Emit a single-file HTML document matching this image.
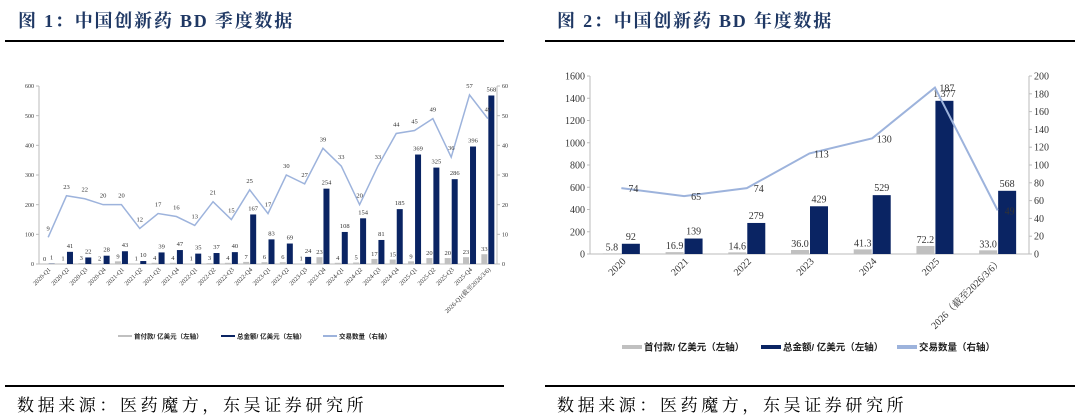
<!DOCTYPE html>
<html><head><meta charset="utf-8"><style>
body{margin:0;width:1080px;height:418px;background:#fff;overflow:hidden;font-family:"Liberation Serif","Noto Serif CJK SC",serif;}
svg{position:absolute;left:0;top:0}
</style></head><body>
<svg id="s" width="1080" height="418">
<text x="18" y="27" font-size="18" font-weight="bold" fill="#1f3864" letter-spacing="1.8" font-family="Liberation Serif,Noto Serif CJK SC,serif">图 1：中国创新药 BD 季度数据</text>
<line x1="5" y1="41" x2="504" y2="41" stroke="#000" stroke-width="2"/>
<text x="557" y="27" font-size="18" font-weight="bold" fill="#1f3864" letter-spacing="1.8" font-family="Liberation Serif,Noto Serif CJK SC,serif">图 2：中国创新药 BD 年度数据</text>
<line x1="545" y1="41" x2="1075" y2="41" stroke="#000" stroke-width="2"/>
<line x1="5" y1="386" x2="504" y2="386" stroke="#000" stroke-width="2"/>
<line x1="545" y1="386" x2="1075" y2="386" stroke="#000" stroke-width="2"/>
<text x="17" y="411" font-size="17" fill="#000" letter-spacing="3.6" font-family="Liberation Serif,Noto Serif CJK SC,serif">数据来源：医药魔方，东吴证券研究所</text>
<text x="557" y="411" font-size="17" fill="#000" letter-spacing="3.6" font-family="Liberation Serif,Noto Serif CJK SC,serif">数据来源：医药魔方，东吴证券研究所</text>
<g id="c1"></g>
<g id="c2"></g>
</svg>
<script>
const qCats=["2020-Q1","2020-Q2","2020-Q3","2020-Q4","2021-Q1","2021-Q2","2021-Q3","2021-Q4","2022-Q1","2022-Q2","2022-Q3","2022-Q4","2023-Q1","2023-Q2","2023-Q3","2023-Q4","2024-Q1","2024-Q2","2024-Q3","2024-Q4","2025-Q1","2025-Q2","2025-Q3","2025-Q4","2026-Q1(截至2026/3/6)"];
const qUpfront=[0,1,3,2,9,1,4,4,1,3,4,7,6,6,1,23,4,5,17,15,9,20,20,23,33];
const qTotal=[1,41,22,28,43,10,39,47,35,37,40,167,83,69,24,254,108,154,81,185,369,325,286,396,568];
const qDeals=[9,23,22,20,20,12,17,16,13,21,15,25,17,30,27,39,33,20,33,44,45,49,36,57,49];
const qLeftTicks=[0,100,200,300,400,500,600];
const qRightTicks=[0,10,20,30,40,50,60];

const yCats=["2020","2021","2022","2023","2024","2025","2026（截至2026/3/6）"];
const yUpfront=[5.8,16.9,14.6,36.0,41.3,72.2,33.0];
const yTotal=[92,139,279,429,529,1377,568];
const yDeals=[74,65,74,113,130,187,49];
const yTotalLabels=["92","139","279","429","529","1,377","568"];
const yLeftTicks=[0,200,400,600,800,1000,1200,1400,1600];
const yRightTicks=[0,20,40,60,80,100,120,140,160,180,200];

const NS="http://www.w3.org/2000/svg";
function mk(p,tag,at,txt){const e=document.createElementNS(NS,tag);for(const k in at)e.setAttribute(k,at[k]);if(txt!==undefined)e.textContent=txt;p.appendChild(e);return e;}

function chart(g,o){
  const n=o.cats.length,bw=(o.x1-o.x0)/n;
  const xc=i=>o.x0+bw*(i+0.5);
  const yl=v=>o.yb-(v/o.lmax)*(o.yb-o.yt);
  const yr=v=>o.yb-(v/o.rmax)*(o.yb-o.yt);
  let e;
  e=mk(g,"line",{x1:o.x0,y1:o.yt,x2:o.x0,y2:o.yb,stroke:"#bbb","stroke-width":1});
  
  
  e=mk(g,"line",{x1:o.x1,y1:o.yt,x2:o.x1,y2:o.yb,stroke:"#bbb","stroke-width":1});
  
  
  e=mk(g,"line",{x1:o.x0,y1:o.yb,x2:o.x1,y2:o.yb,stroke:"#bbb","stroke-width":1});
  
  
  o.lt.forEach(v=>{
    mk(g,"line",{x1:o.x0-3,y1:yl(v),x2:o.x0,y2:yl(v),stroke:"#bbb"});
    e=mk(g,"text",{x:o.x0-5,y:yl(v)+o.tf*0.35,"font-size":o.tf,"text-anchor":"end",fill:"#333"},v);
    
    
  });
  o.rt.forEach(v=>{
    mk(g,"line",{x1:o.x1,y1:yr(v),x2:o.x1+3,y2:yr(v),stroke:"#bbb"});
    e=mk(g,"text",{x:o.x1+5,y:yr(v)+o.tf*0.35,"font-size":o.tf,fill:"#333"},v);
    
    
  });
  const w=o.barw;
  o.cats.forEach((c,i)=>{
    const x=xc(i);
    e=mk(g,"rect",{x:x-w-o.gap/2,y:yl(o.up[i]),width:w,height:o.yb-yl(o.up[i]),fill:"#c0c0c0"});
    
    
    e=mk(g,"rect",{x:x+o.gap/2,y:yl(o.tot[i]),width:w,height:o.yb-yl(o.tot[i]),fill:"#0a2463"});
    
    
    e=mk(g,"text",{x:x-w/2-o.gap/2,y:yl(o.up[i])-3,"font-size":o.lf,"text-anchor":"middle",fill:"#333"},o.upl?o.upl[i]:o.up[i]);
    
    
    e=mk(g,"text",{x:x+w/2+o.gap/2,y:yl(o.tot[i])-4,"font-size":o.lf,"text-anchor":"middle",fill:"#333"},o.totl?o.totl[i]:o.tot[i]);
    
    
    e=mk(g,"text",{transform:`translate(${x+o.cdx},${o.yb+o.cdy}) rotate(-45)`,"font-size":o.cf,"text-anchor":"end",fill:"#333"},c);
    
    
  });
  const pts=o.deals.map((v,i)=>xc(i)+","+yr(v)).join(" ");
  e=mk(g,"polyline",{points:pts,fill:"none",stroke:"#9db3dc","stroke-width":o.lw});
  
  
  o.deals.forEach((v,i)=>{
    e=mk(g,"text",{x:xc(i)+o.ddx,y:yr(v)+o.ddy,"font-size":o.lf,"text-anchor":"middle",fill:"#333"},v);
    
    
  });
}
chart(document.getElementById("c1"),{cats:qCats,up:qUpfront,tot:qTotal,deals:qDeals,lt:qLeftTicks,rt:qRightTicks,
 x0:39,x1:497,yt:86,yb:264,lmax:600,rmax:60,barw:6,gap:1,tf:6,lf:6.5,cf:6.3,cdx:3,cdy:6,lw:1.5,ddx:0,ddy:-7});
chart(document.getElementById("c2"),{cats:yCats,up:yUpfront,tot:yTotal,deals:yDeals,lt:yLeftTicks,rt:yRightTicks,upl:yUpfront.map(v=>v.toFixed(1)),totl:yTotalLabels,
 x0:590,x1:1029,yt:76,yb:254,lmax:1600,rmax:200,barw:18,gap:1,tf:10,lf:10,cf:10,cdx:5,cdy:8,lw:2,ddx:12,ddy:4});

const s=document.getElementById("s");
function legend(items,y,fs,sw,sh,bold){
  items.forEach(it=>{
    let e=mk(s,"rect",{x:it.x,y:y-sh/2,width:sw,height:sh,fill:it.c});
    
    
    e=mk(s,"text",{x:it.x+sw+2,y:y+fs*0.36,"font-size":fs,"font-weight":bold,fill:"#222","font-family":"Liberation Sans,Noto Sans CJK SC,sans-serif"},it.t);
    
    
  });
}
legend([{x:118,c:"#c0c0c0",t:"首付款/ 亿美元（左轴）"},{x:221,c:"#0a2463",t:"总金额/ 亿美元（左轴）"},{x:323,c:"#9db3dc",t:"交易数量（右轴）"}],336,6.5,14,2,"bold");
legend([{x:622,c:"#c0c0c0",t:"首付款/ 亿美元（左轴）"},{x:761,c:"#0a2463",t:"总金额/ 亿美元（左轴）"},{x:897,c:"#9db3dc",t:"交易数量（右轴）"}],347,9.5,20,4,"bold");
</script>
</body></html>
